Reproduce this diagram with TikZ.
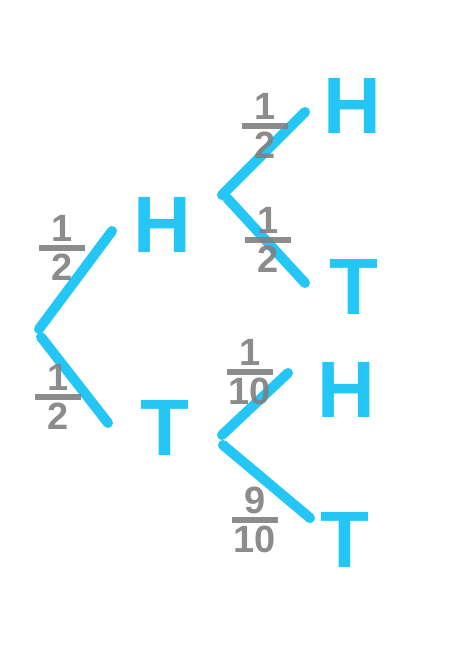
\documentclass[tikz,border=0pt]{standalone}
\usepackage{fontspec}
\setsansfont{Liberation Sans}
\definecolor{penblue}{RGB}{35,198,245}
\definecolor{pengray}{RGB}{128,128,128}
\newcommand{\hfr}[2]{\vbox{\offinterlineskip\halign{\hfil##\hfil\cr #1\cr\noalign{\kern3pt}\rule{46pt}{6pt}\cr\noalign{\kern3pt}#2\cr}}}
\tikzset{
  branch/.style={draw=penblue, line width=10pt, line cap=round, line join=round},
  outcome/.style={text=penblue, inner sep=0pt, font=\fontsize{80}{90}\selectfont\sffamily\bfseries},
  prob/.style={text=pengray, text opacity=0.9, inner sep=0pt, font=\fontsize{38}{42}\selectfont\sffamily\bfseries}
}
\begin{document}
\begin{tikzpicture}[x=1pt,y=-1pt]
\useasboundingbox[fill=white] (0,0) rectangle (448,652);
% tree 1
\coordinate (r1a) at (39,329);
\coordinate (r1b) at (41,337);
\coordinate (e1h) at (112,231);
\coordinate (e1t) at (108,423);
% tree 2
\coordinate (r2a) at (222,195);
\coordinate (r2b) at (227,198);
\coordinate (e2h) at (305,112);
\coordinate (e2t) at (305,283);
% tree 3
\coordinate (r3a) at (222,435);
\coordinate (r3b) at (223,445);
\coordinate (e3h) at (288,373);
\coordinate (e3t) at (310,518);
\draw[branch] (r1a) -- (e1h);
\draw[branch] (r1b) -- (e1t);
\draw[branch] (r2a) -- (e2h);
\draw[branch] (r2b) -- (e2t);
\draw[branch] (r3a) -- (e3h);
\draw[branch] (r3b) -- (e3t);
% outcomes
\node[outcome] (h1) at (162,225) {H};
\node[outcome] (t1) at (165,428) {T};
\node[outcome] (h2) at (352,106) {H};
\node[outcome] (t2) at (354,287) {T};
\node[outcome] (h3) at (346,390) {H};
\node[outcome] (t3) at (345,540) {T};
% probabilities
\node[prob] (p1) at (62,248) {\hfr{1}{2}};
\node[prob] (p2) at (58,397) {\hfr{1}{2}};
\node[prob] (p3) at (265,126) {\hfr{1}{2}};
\node[prob] (p4) at (268,240) {\hfr{1}{2}};
\node[prob] (p5) at (250,372) {\hfr{1}{10}};
\node[prob] (p6) at (255,520) {\hfr{9}{10}};
\end{tikzpicture}
\end{document}
